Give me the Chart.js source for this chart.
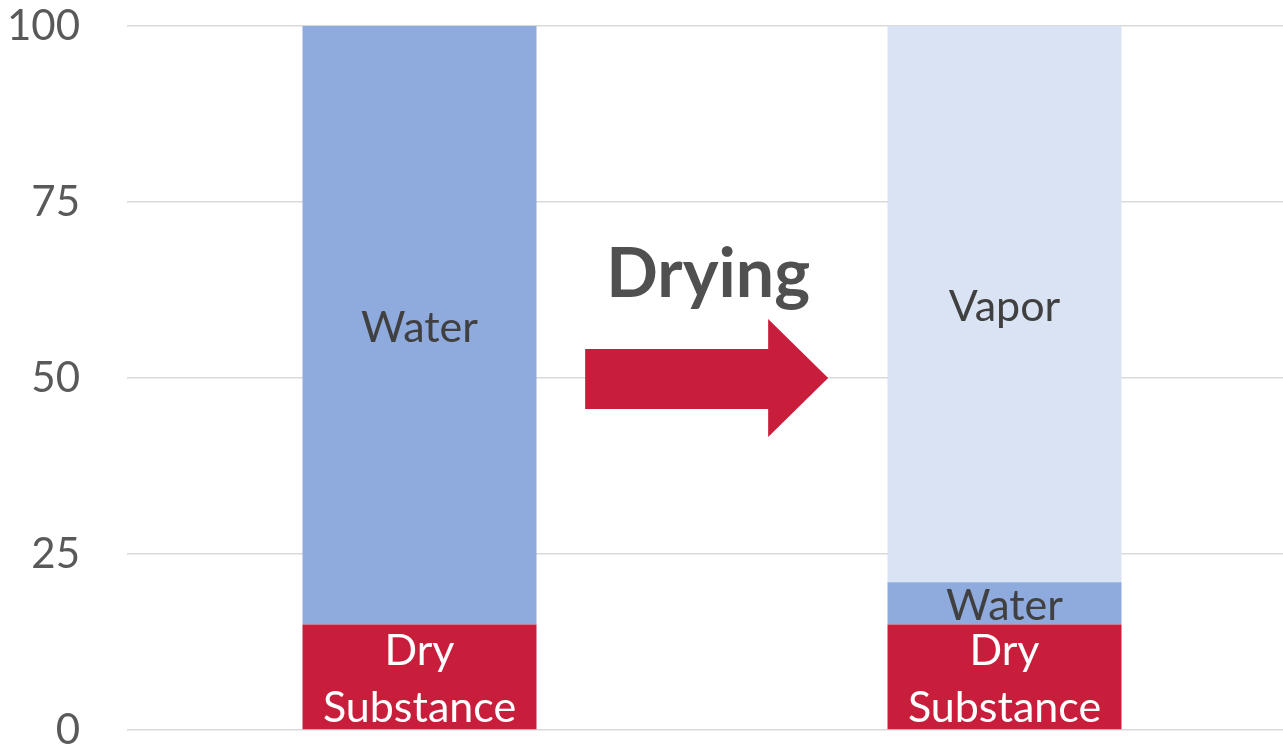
<!DOCTYPE html>
<html>
<head>
<meta charset="utf-8">
<script src="https://cdn.jsdelivr.net/npm/chart.js@4.4.1/dist/chart.umd.min.js"></script>
<style>
    html, body { margin: 0; padding: 0; background: #fff; overflow: hidden; }
    #wrap { position: absolute; left: 0; top: 0; width: 1297px; height: 754px; }
</style>
</head>
<body>
<div id="wrap"><canvas id="dryingChart"></canvas></div>
<script>
// data
const categories = ["Before", "After"];
const drySubstance = [15, 15];
const water = [85, 6];
const vapor = [0, 79];
const yTicks = [0, 25, 50, 75, 100];

const FONT = "Lato, 'Open Sans', sans-serif";

// segment labels drawn in the middle of each bar piece
const segmentLabels = {
    id: "segmentLabels",
    afterDatasetsDraw(chart) {
        const ctx = chart.ctx;
        ctx.save();
        ctx.textAlign = "center";
        ctx.textBaseline = "middle";
        ctx.font = "43px " + FONT;
        chart.data.datasets.forEach((ds, i) => {
            const meta = chart.getDatasetMeta(i);
            meta.data.forEach((bar, j) => {
                if (!ds.data[j]) return;
                const lines = ds.label.split("\n");
                const cy = (bar.y + bar.base) / 2;
                const lh = 57;
                ctx.fillStyle = ds.textColor;
                lines.forEach((line, k) => {
                    ctx.fillText(line, bar.x, cy + (k - (lines.length - 1) / 2) * lh + 3);
                });
            });
        });
        ctx.restore();
    }
};

// "Drying" arrow between the bars
const dryingArrow = {
    id: "dryingArrow",
    afterDatasetsDraw(chart) {
        const ctx = chart.ctx;
        const x = chart.scales.x, y = chart.scales.y;
        const cx = x.getPixelForValue(0.49);
        const cy = y.getPixelForValue(50);
        ctx.save();
        ctx.fillStyle = "#C81E3C";
        ctx.beginPath();
        ctx.moveTo(cx - 121, cy - 29);
        ctx.lineTo(cx + 62, cy - 29);
        ctx.lineTo(cx + 62, cy - 59);
        ctx.lineTo(cx + 122, cy);
        ctx.lineTo(cx + 62, cy + 59);
        ctx.lineTo(cx + 62, cy + 31);
        ctx.lineTo(cx - 121, cy + 31);
        ctx.closePath();
        ctx.fill();
        ctx.fillStyle = "#505050";
        ctx.font = "bold 68px " + FONT;
        ctx.textAlign = "center";
        ctx.textBaseline = "middle";
        ctx.fillText("Drying", cx + 2, y.getPixelForValue(64.6));
        ctx.restore();
    }
};

new Chart(document.getElementById("dryingChart"), {
    type: "bar",
    data: {
        labels: categories,
        datasets: [
            { label: "Dry\nSubstance", data: drySubstance, backgroundColor: "#C81E3C", textColor: "#ffffff" },
            { label: "Water", data: water, backgroundColor: "#8FAADC", textColor: "#404040" },
            { label: "Vapor", data: vapor, backgroundColor: "#DAE3F3", textColor: "#404040" },
        ],
    },
    options: {
        responsive: true,
        maintainAspectRatio: false,
        animation: false,
        layout: { padding: { top: 26, bottom: 16, left: 0, right: 0 } },
        datasets: { bar: { categoryPercentage: 1, barPercentage: 0.4, borderWidth: 0 } },
        plugins: {
            legend: { display: false },
            tooltip: { enabled: false },
        },
        scales: {
            x: {
                stacked: true,
                grid: { display: false },
                border: { display: false },
                ticks: { display: false },
            },
            y: {
                stacked: true,
                min: 0,
                max: 100,
                afterBuildTicks: (scale) => { scale.ticks = yTicks.map((v) => ({ value: v })); },
                afterFit: (scale) => {
                    scale.width = 127;
                    scale.paddingTop = 0;
                    scale.paddingBottom = 0;
                },
                grid: { color: "#d9d9d9", lineWidth: 1.5, drawTicks: false },
                border: { display: false },
                ticks: { padding: 47, color: "#595959", font: { family: FONT, size: 42 } },
            },
        },
    },
    plugins: [segmentLabels, dryingArrow],
});
</script>
</body>
</html>
